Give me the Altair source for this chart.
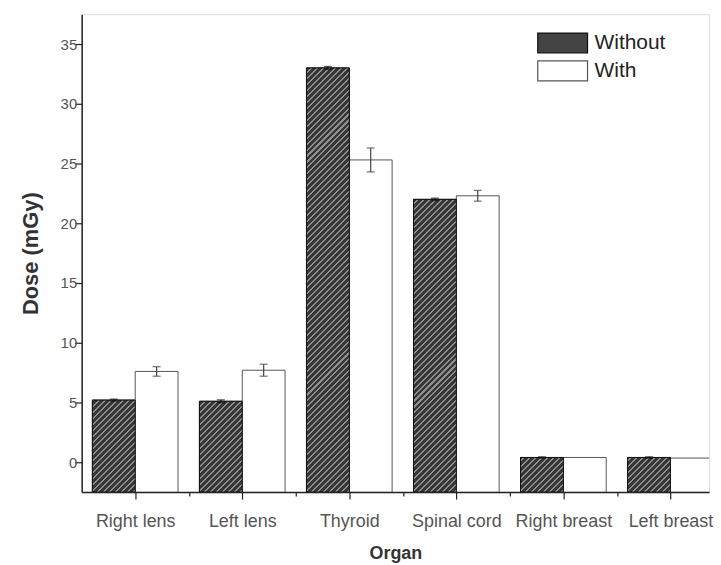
import json
import math
import altair as alt
import pandas as pd

# ---- data ----
organs = ["Right lens", "Left lens", "Thyroid", "Spinal cord", "Right breast", "Left breast"]
without_vals = [5.2, 5.1, 33.0, 22.0, 0.4, 0.4]
without_err = [0.08, 0.12, 0.12, 0.1, 0.05, 0.05]
with_vals = [7.6, 7.7, 25.3, 22.3, 0.4, 0.35]
with_err = [0.4, 0.5, 1.0, 0.45, 0.0, 0.0]
series_names = ["Without", "With"]

# ---- layout / style ----
W_PLOT, H_PLOT = 630, 480
X_DOMAIN = [0.5, 0.5 + 630 / 107.5]
Y_DOMAIN = [-2.5, 37.5]
BAR_W = 0.4
FONT = "Liberation Sans"
SEG_UNITS = 12.0  # hatch drawn in segments of this many data units (keeps gradients small)
DARK, LIGHT = "#363636", "#8e8e8e"

rows = []
for i, org in enumerate(organs):
    idx = i + 1
    rows.append(dict(organ=org, idx=idx, series="Without", value=without_vals[i], err=without_err[i],
                     xa=idx - BAR_W, xb=idx, xc=idx - BAR_W / 2))
    rows.append(dict(organ=org, idx=idx, series="With", value=with_vals[i], err=with_err[i],
                     xa=idx, xb=idx + BAR_W, xc=idx + BAR_W / 2))
df = pd.DataFrame(rows)
df["lo"] = df["value"] - df["err"]
df["hi"] = df["value"] + df["err"]

px_x = W_PLOT / (X_DOMAIN[1] - X_DOMAIN[0])
px_y = H_PLOT / (Y_DOMAIN[1] - Y_DOMAIN[0])

x_vals = [1 + 0.5 * k for k in range(11)]
y_vals = [2.5 * k for k in range(15)]

label_expr_x = "datum.value % 1 === 0 ? " + json.dumps(organs) + "[datum.value - 1] : ''"


def hatch_seg(w, h, ytop, period=6.0, frac=0.66):
    L = w + h

    def color_at(s):
        ph = (s + ytop) % period
        return DARK if ph < frac * period else LIGHT

    bounds = []
    m0 = int(math.floor(ytop / period)) - 1
    for m in range(m0, m0 + int(L / period) + 4):
        for gb in (m * period, m * period + frac * period):
            sb = gb - ytop
            if 0 < sb < L:
                bounds.append(sb)
    bounds.sort()
    stops = [{"offset": 0, "color": color_at(0)}]
    for sb in bounds:
        off = round(sb / L, 5)
        stops.append({"offset": off, "color": color_at(sb - 1e-6)})
        stops.append({"offset": off, "color": color_at(sb + 1e-6)})
    stops.append({"offset": 1, "color": color_at(L)})
    k = L / (w * w + h * h)
    return {"gradient": "linear", "x1": 0, "y1": 0, "x2": w * k, "y2": h * k, "stops": stops}


x_enc = alt.X("xa:Q", scale=alt.Scale(domain=X_DOMAIN, nice=False, zero=False),
              axis=alt.Axis(values=x_vals, labelExpr=label_expr_x, title="Organ", grid=False,
                            labelFlush=False, labelOverlap=False, labelFont=FONT, labelFontSize=18,
                            labelColor="#555", labelPadding=14,
                            tickSize={"condition": {"test": "datum.value % 1 === 0", "value": 7}, "value": 4},
                            tickColor="#222", tickWidth=1.2, domainColor="#222", domainWidth=1.5,
                            titleFont=FONT, titleFontSize=18, titleFontWeight="bold", titleColor="#333",
                            titlePadding=14))
y_enc = alt.Y("value:Q", scale=alt.Scale(domain=Y_DOMAIN, nice=False, zero=False),
              axis=alt.Axis(values=y_vals, labelExpr="datum.value % 5 === 0 ? datum.label : ''",
                            title="Dose (mGy)", grid=False, labelOverlap=False, labelFlush=False,
                            labelFont=FONT, labelFontSize=15, labelColor="#555", labelPadding=-2,
                            tickSize={"condition": {"test": "datum.value % 5 === 0", "value": 7}, "value": 4},
                            tickColor="#222", tickWidth=1.2, domainColor="#222", domainWidth=1.5,
                            titleFont=FONT, titleFontSize=22, titleFontWeight="bold", titleColor="#333",
                            titlePadding=18))

base = alt.Chart(df)

bars = base.mark_bar(strokeWidth=1, clip=True).encode(
    x=x_enc, x2="xb:Q", y=y_enc, y2=alt.datum(Y_DOMAIN[0]),
    fill=alt.Fill("series:N", scale=alt.Scale(domain=series_names, range=["#434343", "#ffffff"]),
                  legend=alt.Legend(title=None, orient="none", legendX=472, legendY=18,
                                    symbolType="M-2.5,-1H2.5V1H-2.5Z", symbolSize=400,
                                    symbolStrokeColor="#444", symbolStrokeWidth=1.2,
                                    labelFont=FONT, labelFontSize=21, labelColor="#222",
                                    labelOffset=21, rowPadding=2, symbolOpacity=1)),
    stroke=alt.Stroke("series:N", scale=alt.Scale(domain=series_names, range=["#111111", "#555555"]),
                      legend=None),
)

# hatch fill for the "Without" bars, drawn in segments derived from each bar's value
hatch_layers = []
w_px = BAR_W * px_x
for i, org in enumerate(organs):
    v = without_vals[i]
    k = 0
    while Y_DOMAIN[0] + k * SEG_UNITS < v:
        bot = Y_DOMAIN[0] + k * SEG_UNITS
        top = min(v, bot + SEG_UNITS)
        h_px = (top - bot) * px_y
        ytop_px = (Y_DOMAIN[1] - top) * px_y
        hatch_layers.append(
            base.transform_filter((alt.datum.idx == i + 1) & (alt.datum.series == "Without"))
            .transform_calculate(seg_bot=f"{Y_DOMAIN[0]} + {k} * {SEG_UNITS}",
                                 seg_top=f"min(datum.value, {Y_DOMAIN[0]} + {k + 1} * {SEG_UNITS})")
            .mark_bar(fill=hatch_seg(w_px, h_px, ytop_px), strokeWidth=0, clip=True)
            .encode(x="xa:Q", x2="xb:Q", y="seg_top:Q", y2="seg_bot:Q")
        )
        k += 1

outline = base.transform_filter(alt.datum.series == "Without").mark_bar(
    fillOpacity=0, stroke="#111111", strokeWidth=1, clip=True
).encode(x="xa:Q", x2="xb:Q", y="value:Q", y2=alt.datum(Y_DOMAIN[0]))

err_base = base.transform_filter(alt.datum.err > 0)
err_color = alt.Color("series:N", scale=alt.Scale(domain=series_names, range=["#111111", "#444444"]),
                      legend=None)
err_rule = err_base.mark_rule(strokeWidth=1.2).encode(x="xc:Q", y="lo:Q", y2="hi:Q", color=err_color)
cap_hi = err_base.mark_tick(orient="horizontal", size=8, thickness=1.3).encode(
    x="xc:Q", y="hi:Q", color=err_color)
cap_lo = err_base.mark_tick(orient="horizontal", size=8, thickness=1.3).encode(
    x="xc:Q", y="lo:Q", color=err_color)

chart = alt.layer(bars, *hatch_layers, outline, err_rule, cap_hi, cap_lo).properties(
    width=W_PLOT, height=H_PLOT,
    padding={"left": 11, "top": 5, "right": 0, "bottom": 0},
).configure_view(stroke=None).configure(background="white")

chart.save("out.html", embed_options={"renderer": "svg", "actions": False})
